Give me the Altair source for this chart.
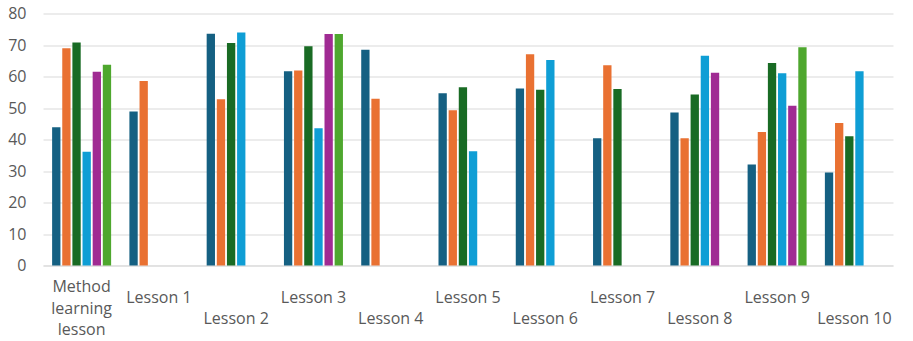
import altair as alt
import pandas as pd

# Lesson categories along the x axis
categories = ["Method learning lesson", "Lesson 1", "Lesson 2", "Lesson 3", "Lesson 4",
              "Lesson 5", "Lesson 6", "Lesson 7", "Lesson 8", "Lesson 9", "Lesson 10"]

# Six series (None = no bar for that lesson)
series_names = ["S1", "S2", "S3", "S4", "S5", "S6"]
s1 = [43.9, 48.9, 73.6, 61.7, 68.5, 54.7, 56.2, 40.4, 48.6, 32.1, 29.5]
s2 = [69.0, 58.6, 52.8, 61.9, 52.9, 49.3, 67.1, 63.6, 40.4, 42.4, 45.2]
s3 = [70.8, None, 70.6, 69.6, None, 56.6, 55.8, 56.0, 54.3, 64.3, 41.0]
s4 = [36.1, None, 74.0, 43.6, None, 36.3, 65.2, None, 66.6, 61.0, 61.7]
s5 = [61.5, None, None, 73.5, None, None, None, None, 61.2, 50.7, None]
s6 = [63.7, None, None, 73.5, None, None, None, None, None, 69.3, None]
series_colors = ["#156082", "#E97132", "#196B24", "#0F9ED5", "#A02B93", "#4EA72E"]

# Axis label lines and their row (staggered labels)
label_lines = [["Method", "learning", "lesson"]] + [[c] for c in categories[1:]]
label_rows = [0, 1, 2, 1, 2, 1, 2, 1, 2, 1, 2]

rows = []
for name, vals in zip(series_names, [s1, s2, s3, s4, s5, s6]):
    for cat, v in zip(categories, vals):
        if v is not None:
            rows.append({"lesson": cat, "series": name, "value": v})
bars_df = pd.DataFrame(rows)

labels_df = pd.DataFrame({"lesson": categories, "lines": label_lines, "row": label_rows})

font = "Open Sans"
grey = "#595959"

x_scale = alt.Scale(domain=categories, paddingInner=0.2365, paddingOuter=0.118)

bars = alt.Chart(bars_df).mark_bar().encode(
    x=alt.X("lesson:N", scale=x_scale, sort=categories, title=None,
            axis=alt.Axis(labels=False, ticks=False, domain=True, domainColor="#d9d9d9",
                          domainWidth=1, grid=False)),
    xOffset=alt.XOffset("series:N", sort=series_names,
                        scale=alt.Scale(domain=series_names, paddingInner=0.18, paddingOuter=0)),
    y=alt.Y("value:Q", scale=alt.Scale(domain=[0, 80], nice=False), title=None,
            axis=alt.Axis(values=list(range(0, 81, 10)), ticks=False, domain=False,
                          gridColor="#d9d9d9", gridWidth=1, labelFont=font, labelFontSize=16,
                          labelColor=grey, labelPadding=17)),
    color=alt.Color("series:N", scale=alt.Scale(domain=series_names, range=series_colors),
                    legend=None),
)

text_props = dict(font=font, fontSize=16, color=grey, align="center",
                  baseline="alphabetic", lineHeight=21.7)

row0 = alt.Chart(labels_df).transform_filter("datum.row == 0").mark_text(**text_props).encode(
    x=alt.X("lesson:N", scale=x_scale, sort=categories), text="lines", y=alt.value(278.5))
row1 = alt.Chart(labels_df).transform_filter("datum.row == 1").mark_text(**text_props).encode(
    x=alt.X("lesson:N", scale=x_scale, sort=categories), text="lines", y=alt.value(289))
row2 = alt.Chart(labels_df).transform_filter("datum.row == 2").mark_text(**text_props).encode(
    x=alt.X("lesson:N", scale=x_scale, sort=categories), text="lines", y=alt.value(310.5))

chart = alt.layer(bars, row0, row1, row2).properties(
    width=850, height=252,
    autosize=alt.AutoSizeParams(type="none"),
    padding={"left": 43, "top": 13.5, "right": 20, "bottom": 75.5},
    background="white",
).configure_view(stroke=None)

chart.save("out.html", embed_options={"renderer": "svg", "actions": False})
